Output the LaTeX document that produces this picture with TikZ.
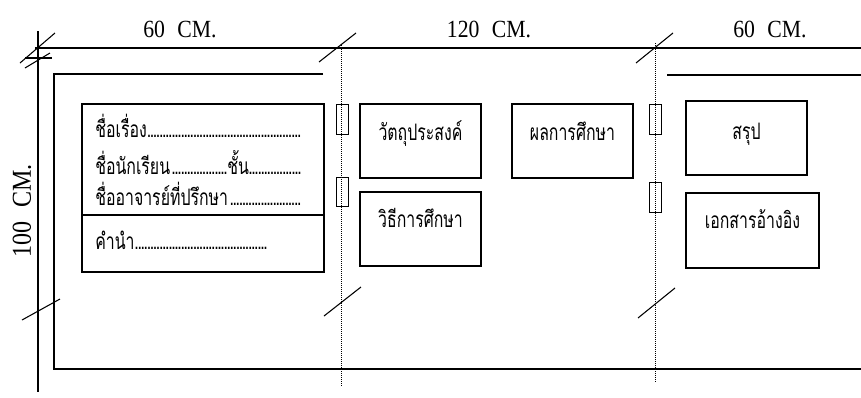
\documentclass[tikz,border=0pt]{standalone}
\usepackage{fontspec}
\setmainfont{Liberation Serif}[FakeStretch=0.88]
\newfontfamily\thaifont[Script=Thai, FakeStretch=0.7]{Loma}
\usetikzlibrary{positioning}
\newcommand\dotrun{\leaders\hbox to 2.3pt{\hss.\hss}\hfill}

\tikzset{
	outline/.style={line width=0.9pt},
	slash/.style={line width=0.8pt},
	guide/.style={densely dotted, line width=0.5pt},
	panel/.style={draw, line width=0.9pt},
	tab/.style={draw, line width=0.7pt},
	dimlabel/.style={font=\fontsize{18.5}{20}\selectfont, inner sep=0pt},
	thai/.style={font=\thaifont\fontsize{17}{19}\selectfont, inner sep=0pt},
}

\begin{document}
\begin{tikzpicture}[x=0.75pt, y=-0.75pt]
	\useasboundingbox (0,0) rectangle (861,397);
	% dimension lines
	\coordinate (D1) at (35,48);
	\coordinate (D2) at (861,48);
	\coordinate (V1) at (38,31);
	\coordinate (V2) at (38,392);
	\draw[outline] (D1)--(D2);
	\draw[outline] (V1)--(V2);
	\draw[outline] (25,58)--(52,58);
	\draw[slash] (20,63)--(55,33);
	\draw[slash] (25,68)--(50,53);
	\draw[slash] (319,62)--(356,33);
	\draw[slash] (636,63)--(673,33);
	\draw[slash] (22,320)--(60,299);
	\draw[slash] (324,316)--(361,287);
	\draw[slash] (638,318)--(675,288);
	\node[dimlabel, anchor=base] (w1) at (180,37) {60\enspace CM.};
	\node[dimlabel, anchor=base] (w2) at (489,37) {120\enspace CM.};
	\node[dimlabel, anchor=base] (w3) at (770,37) {60\enspace CM.};
	\node[dimlabel, rotate=90, font=\fontsize{20.5}{22}\selectfont] (h1) at (22,211) {100\enspace CM.};
	% board outline
	\draw[outline] (323,74)--(54,74)--(54,369)--(861,369);
	\draw[outline] (667,75)--(861,75);
	% fold lines
	\draw[guide] (341,45)--(341,387);
	\draw[guide] (655,43)--(655,383);
	\draw[tab] (336,104) rectangle (348,134);
	\draw[tab] (336,177) rectangle (348,206);
	\draw[tab] (649,104) rectangle (661,134);
	\draw[tab] (649,182) rectangle (661,212);
	% left panel
	\draw[outline] (82,104) rectangle (324,272);
	\draw[outline] (82,215)--(324,215);
	\node[thai, anchor=base west] (title) at (95,137) {\hbox to 156pt{ชื่อเรื่อง\dotrun}};
	\node[thai, anchor=base west] (student) at (95,174) {\hbox to 99pt{ชื่อนักเรียน\dotrun}ชั้น\hbox to 40pt{\dotrun}};
	\node[thai, anchor=base west] (advisor) at (95,205) {\hbox to 156pt{ชื่ออาจารย์ที่ปรึกษา\dotrun}};
	\node[thai, anchor=base west] (intro) at (95,249) {\hbox to 131pt{คำนำ\dotrun}};
	% middle and right panels
	\draw[outline] (360,104) rectangle (481,178);
	\node[thai, anchor=base] (aim) at (420.5,140) {วัตถุประสงค์};
	\draw[outline] (360,192) rectangle (481,266);
	\node[thai, anchor=base] (method) at (420.5,227) {วิธีการศึกษา};
	\draw[outline] (512,104) rectangle (633,178);
	\node[thai, anchor=base] (result) at (572.5,140) {ผลการศึกษา};
	\draw[outline] (686,101) rectangle (807,175);
	\node[thai, anchor=base] (summary) at (746.5,139) {สรุป};
	\draw[outline] (686,193) rectangle (819,268);
	\node[thai, anchor=base] (refs) at (752.5,228) {เอกสารอ้างอิง};
\end{tikzpicture}
\end{document}
